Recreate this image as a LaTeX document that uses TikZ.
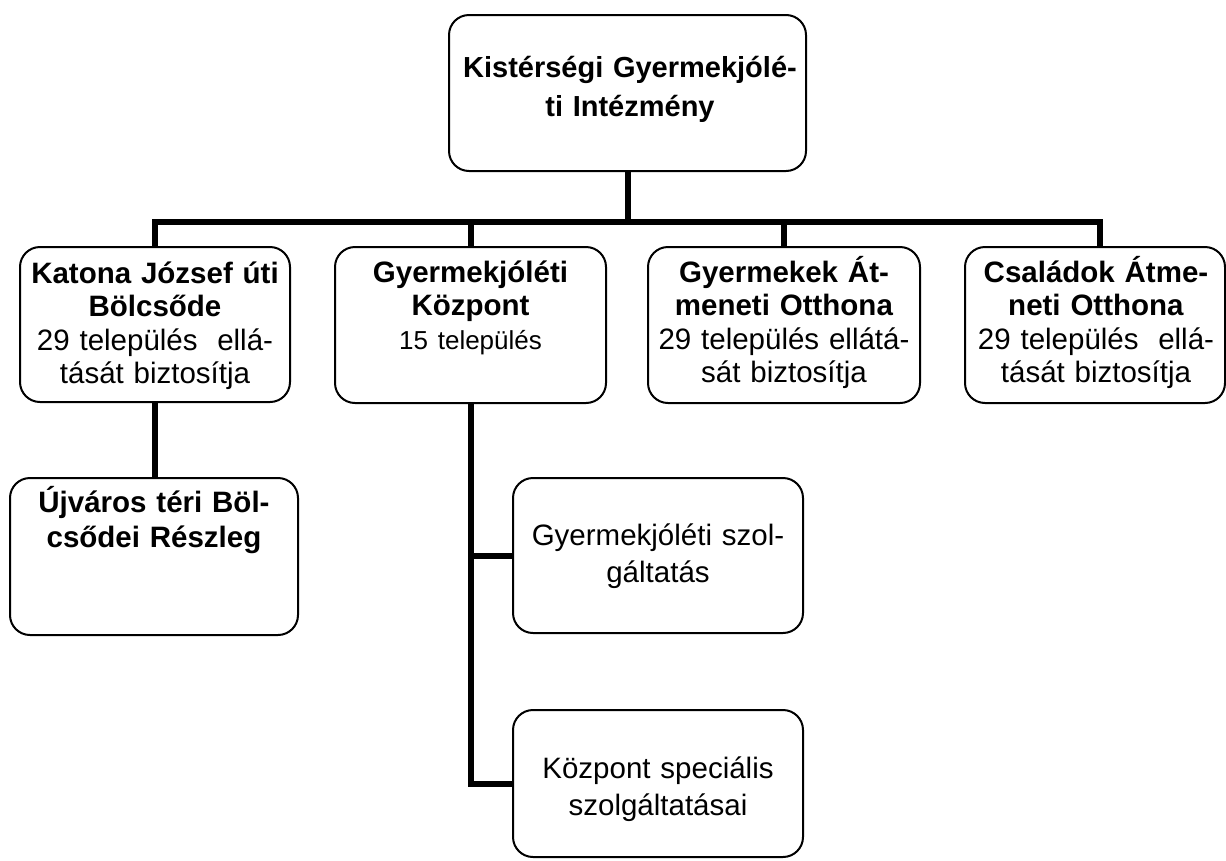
\documentclass[tikz,border=0pt]{standalone}
\usepackage{fontspec}
\setmainfont{Liberation Sans}
\lineskiplimit=-50pt
\tikzset{
  orgbox/.style={draw=black, line width=2pt, rounded corners=20pt, rectangle, inner sep=0pt, fill=white},
  conn/.style={draw=black, line width=6pt, line join=miter},
  lbl/.style={anchor=north, inner sep=0pt, align=center},
  big/.style={font=\fontsize{29.5}{33.5}\selectfont},
}
\newcommand{\fs}{\rule{0pt}{30pt}}
\begin{document}
\begin{tikzpicture}[x=1pt,y=-1pt]
\useasboundingbox (0,0) rectangle (1226,860);
% boxes
\node[orgbox, minimum width=357pt, minimum height=156pt] (top) at (627.5,93) {};
\node[orgbox, minimum width=270pt, minimum height=155pt] (b1) at (155,324.5) {};
\node[orgbox, minimum width=271pt, minimum height=156pt] (b2) at (470.5,325) {};
\node[orgbox, minimum width=272pt, minimum height=156pt] (b3) at (784,325) {};
\node[orgbox, minimum width=260pt, minimum height=156pt] (b4) at (1095,325) {};
\node[orgbox, minimum width=288pt, minimum height=157pt] (c1) at (154,556.5) {};
\node[orgbox, minimum width=290pt, minimum height=155pt] (bA) at (658,555.5) {};
\node[orgbox, minimum width=290pt, minimum height=147pt] (bB) at (658,783.5) {};
% texts
\node[lbl, text width=350pt, font=\fontsize{29}{39}\selectfont\bfseries] (ttop) at (630,47)
  {\fs Kistérségi Gyermekjólé-\\ti Intézmény};
\node[lbl, big, text width=266pt] (t1) at (155,253)
  {\fs\textbf{Katona József úti}\\\textbf{Bölcsőde}\\29 település\ \ ellá-\\tását biztosítja};
\node[lbl, big, text width=266pt] (t2) at (470.5,252)
  {\fs\textbf{Gyermekjóléti}\\\textbf{Központ}\\{\fontsize{26}{32}\selectfont 15 település}};
\node[lbl, big, text width=268pt] (t3) at (784,252)
  {\fs\textbf{Gyermekek Át-}\\\textbf{meneti Otthona}\\29 település ellátá-\\sát biztosítja};
\node[lbl, big, text width=256pt] (t4) at (1096,252)
  {\fs\textbf{Családok Átme-}\\\textbf{neti Otthona}\\29 település\ \ ellá-\\tását biztosítja};
\node[lbl, text width=284pt, font=\fontsize{29.5}{35}\selectfont\bfseries] (tc1) at (154,482)
  {\fs Újváros téri Böl-\\csődei Részleg};
\node[lbl, text width=286pt, font=\fontsize{29.5}{37}\selectfont] (tA) at (658,515)
  {\fs Gyermekjóléti szol-\\gáltatás};
\node[lbl, text width=286pt, font=\fontsize{29.5}{37}\selectfont] (tB) at (658,748)
  {\fs Központ speciális\\szolgáltatásai};
% connectors
\coordinate (barR) at (1100,222);
\draw[conn] (top.south) -- (top.south |- barR);
\draw[conn] (b1.north) |- (barR) -- (barR |- b4.north);
\draw[conn] (b2.north |- barR) -- (b2.north);
\draw[conn] (b3.north |- barR) -- (b3.north);
\draw[conn] (b1.south) -- (b1.south |- c1.north);
\draw[conn] (b2.south) |- (bB.west);
\draw[conn] (b2.south |- bA.west) -- (bA.west);
\end{tikzpicture}
\end{document}
